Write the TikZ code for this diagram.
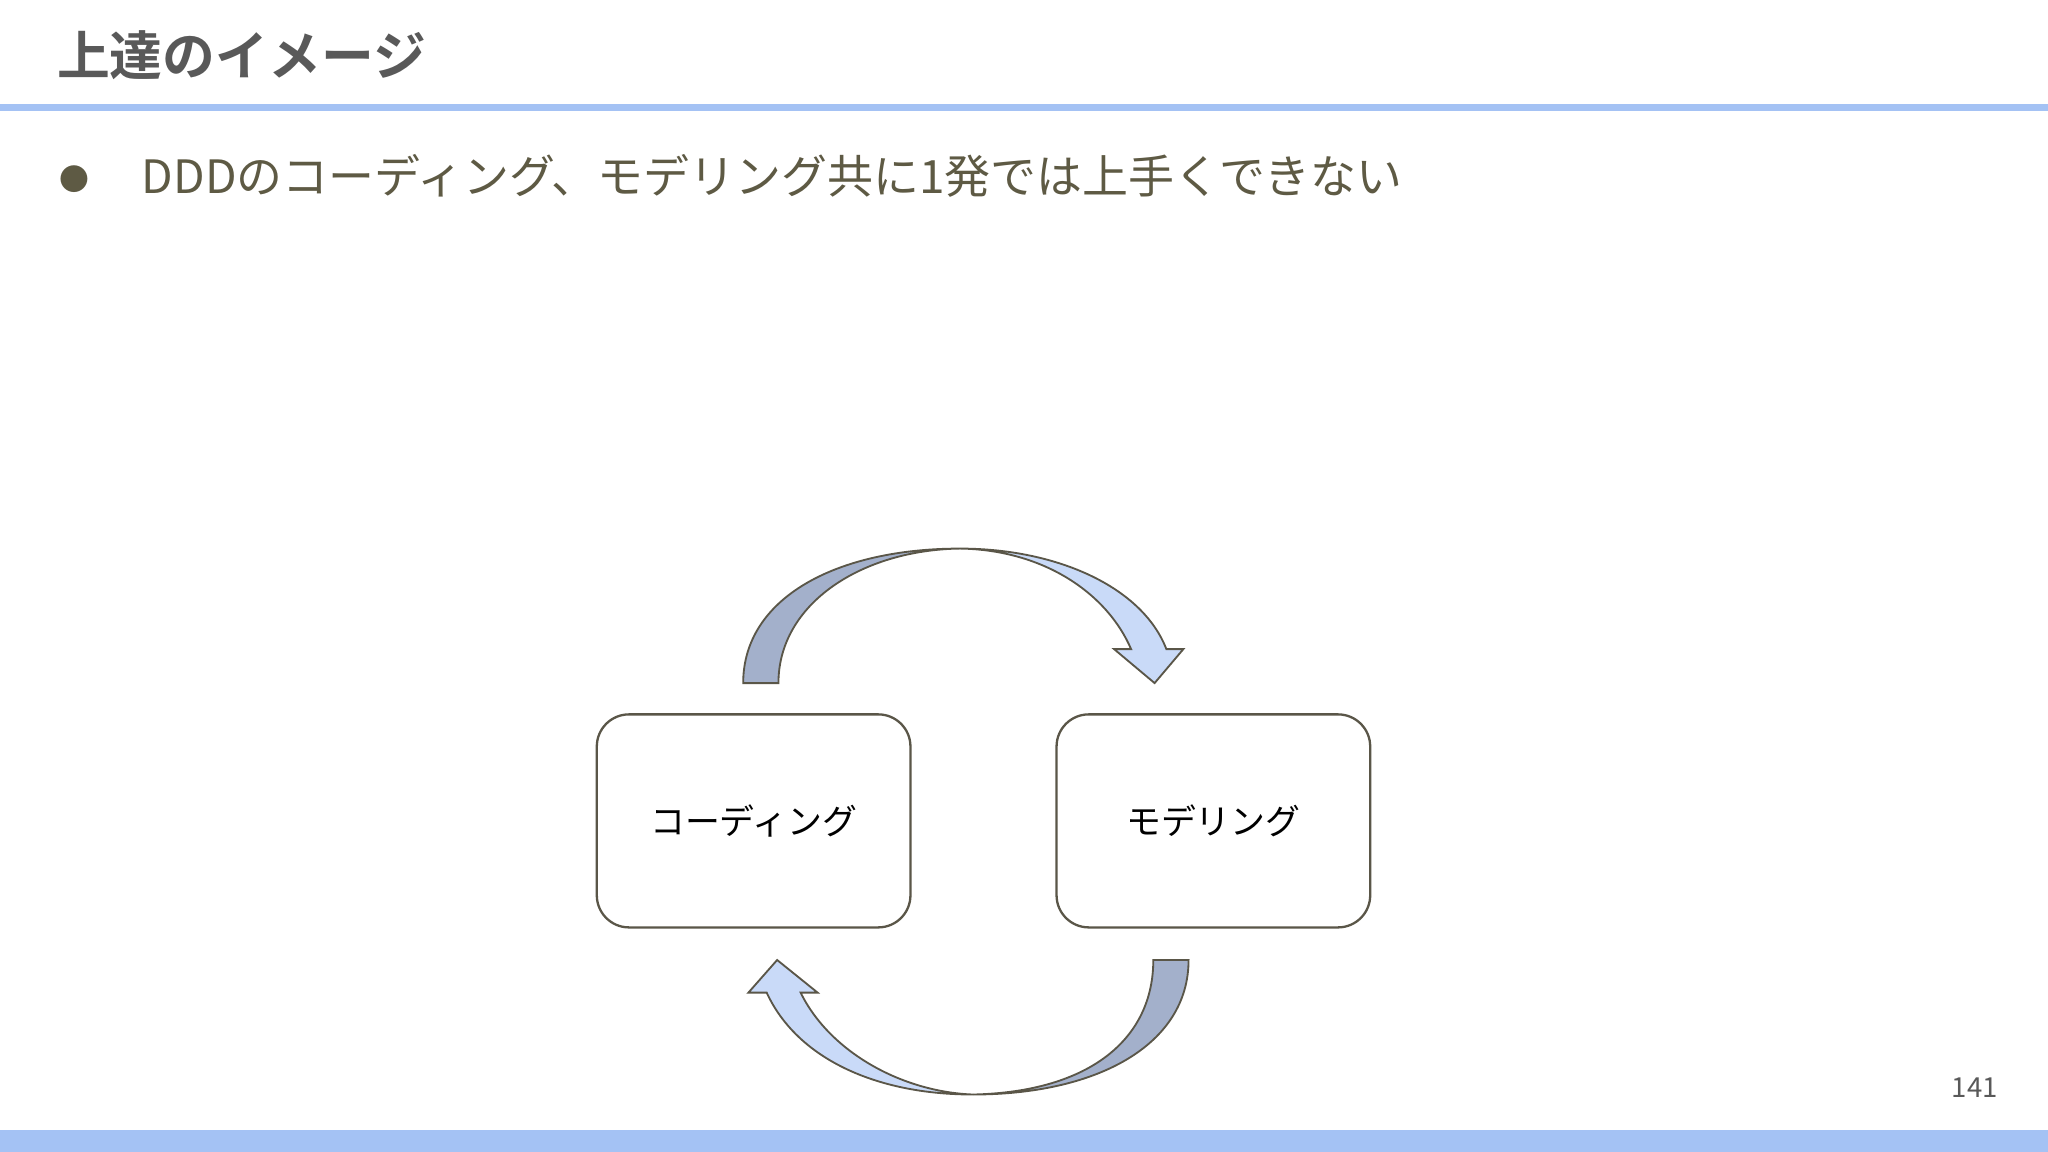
\documentclass[tikz,border=0pt]{standalone}
\usepackage{fontspec}
\newfontfamily\cjk{Noto Sans CJK JP}
\newfontfamily\cjkb{Noto Sans CJK JP Bold}
\definecolor{barblue}{HTML}{A4C2F4}
\definecolor{titlegray}{HTML}{595959}
\definecolor{olive}{HTML}{5E5A44}
\definecolor{darkarc}{HTML}{A3B0CB}
\definecolor{lightarc}{HTML}{C9DAF8}
\definecolor{edge}{HTML}{5A5648}
\begin{document}
\begin{tikzpicture}[x=0.01cm,y=-0.01cm,
  box/.style={draw=edge,line width=0.5pt,rounded corners=7pt,minimum width=2.40cm,minimum height=1.63cm,font=\cjk\fontsize{7.6}{9}\selectfont},
  arc/.style={draw=edge,line width=0.4pt}]
\useasboundingbox (0,0) rectangle (1568,882);
\fill[white] (0,0) rectangle (1568,882);
\fill[barblue] (0,79.5) rectangle (1568,85);
\fill[barblue] (0,865) rectangle (1568,882);
\node[anchor=west,text=titlegray,font=\cjkb\fontsize{11.5}{13}\selectfont,inner sep=0] (title) at (43,42) {上達のイメージ};
\node[text=olive,font=\cjk\fontsize{6.5}{8}\selectfont,inner sep=0] (bul) at (57,137) {●};
\node[anchor=west,text=olive,font=\cjk\fontsize{10}{12}\selectfont,inner sep=0] (txt) at (108,135) {DDDのコーディング、モデリング共に1発では上手くできない};
\node[text=titlegray,font=\cjk\fontsize{6}{7}\selectfont,inner sep=0] (pg) at (1512,833) {141};
\node[box] (cod) at (577,628.5) {コーディング};
\node[box] (mod) at (929,628.5) {モデリング};
% top arrow
\draw[arc,fill=darkarc] (569,523) -- (596,523) .. controls (596,462) and (660,421) .. (735,420) .. controls (640,420) and (569,458) .. cycle;
\draw[arc,fill=lightarc] (735,420) .. controls (810,420) and (875,450) .. (893,497) -- (906,497) -- (884,523) -- (853,497) -- (866,497) .. controls (848,455) and (800,421) .. cycle;
% bottom arrow
\draw[arc,fill=darkarc] (883,735) -- (910,735) .. controls (910,800) and (840,838) .. (745,838) .. controls (835,836) and (883,795) .. cycle;
\draw[arc,fill=lightarc] (745,838) .. controls (670,838) and (610,810) .. (587,760) -- (573,760) -- (595,735) -- (626,760) -- (613,760) .. controls (635,805) and (690,836) .. cycle;
\end{tikzpicture}
\end{document}
